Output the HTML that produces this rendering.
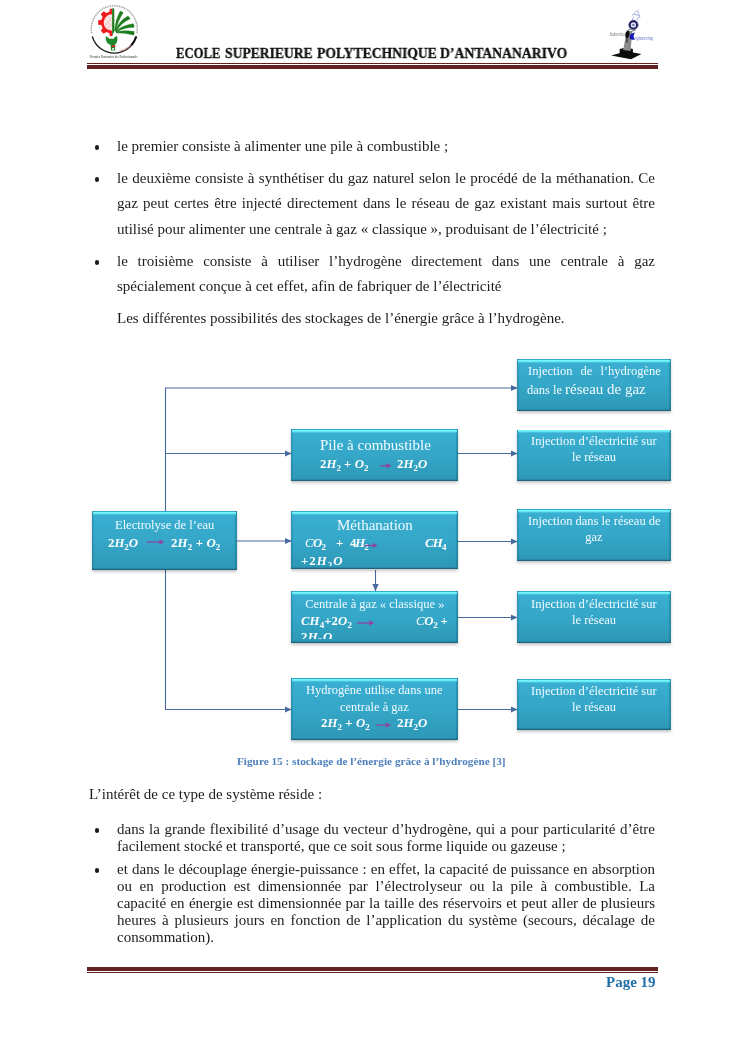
<!DOCTYPE html>
<html><head><meta charset="utf-8">
<style>
html,body{margin:0;padding:0;background:#fff;}
body{width:745px;height:1053px;position:relative;overflow:hidden;font-family:"Liberation Serif",serif;color:#1a1a1a;}
.abs{position:absolute;}
.t,.t2,.hdr,.tx,.m,.cap,.pg{will-change:transform;}
.hdr{position:absolute;font-weight:bold;font-size:14.2px;white-space:nowrap;color:#111;line-height:16px;-webkit-text-stroke:0.3px #111;}
.ln{position:absolute;left:87px;width:571px;background:#622423;}
.t{position:absolute;left:117px;width:538px;font-size:15px;line-height:25.3px;text-align:justify;color:#1c1c1c;}
.t2{position:absolute;left:117px;width:538px;font-size:15px;line-height:17.1px;text-align:justify;color:#1c1c1c;}
.nj{text-align:left;white-space:nowrap;}
.bul{position:absolute;left:94.6px;width:4.6px;height:4.6px;border-radius:50%;background:#1c1c1c;}
.box{position:absolute;background:linear-gradient(#3ab0d3 0%,#35a7c8 50%,#2d97b6 100%);box-shadow:0 1.5px 2.5px rgba(0,0,0,.22), inset 1.5px 0 1px rgba(30,110,140,.4), inset -2px 0 1px rgba(25,110,130,.45), inset 0 -1.2px 0.8px rgba(25,80,105,.75);box-sizing:border-box;}
.box::before{content:'';position:absolute;left:1px;right:1px;top:0.6px;height:3.2px;background:linear-gradient(rgba(120,255,255,.95) 0%,rgba(115,250,255,.85) 45%,rgba(100,235,250,0) 100%);}
.tx{position:absolute;color:#f1fbff;white-space:nowrap;text-align:center;}
.m{position:absolute;color:#fff;white-space:nowrap;font-weight:bold;font-size:12.8px;line-height:16px;}
.m i{font-style:italic;}
.m sub{font-size:9px;vertical-align:-2.8px;line-height:0;}
.clip{position:absolute;overflow:hidden;}
</style></head><body>

<!-- logos -->
<svg class="abs" style="left:0;top:0" width="745" height="75" viewBox="0 0 745 75">
<defs>
<clipPath id="lh"><rect x="90" y="0" width="22.3" height="60"/></clipPath>
<filter id="bl" x="-10%" y="-10%" width="120%" height="120%"><feGaussianBlur stdDeviation="0.45"/></filter>
<filter id="bl2" x="-10%" y="-10%" width="120%" height="120%"><feGaussianBlur stdDeviation="0.6"/></filter>
</defs>
<g filter="url(#bl)">
<path d="M91.6,33 A23,23.5 0 1 1 137,33" fill="none" stroke="#8f8f8f" stroke-width="1.5" stroke-dasharray="1.1 0.7" opacity="0.85"/>
<path d="M92.3,36.5 A23,23.5 0 0 0 136.3,36.5" fill="none" stroke="#1a1a1a" stroke-width="1.3"/>
<path d="M131,45.5 A23,23.5 0 0 0 136.3,36.5" fill="none" stroke="#111" stroke-width="2"/>
<path d="M120.5,51 A23,23.5 0 0 0 131.5,44.5" fill="none" stroke="#c77" stroke-width="1.3" stroke-dasharray="1 .6"/>
<g clip-path="url(#lh)"><path d="M125.8,20.3 L125.8,24.7 L122.7,25.1 L121.4,28.2 L123.3,30.7 L120.2,33.8 L117.7,31.9 L114.6,33.2 L114.2,36.3 L109.8,36.3 L109.4,33.2 L106.3,31.9 L103.8,33.8 L100.7,30.7 L102.6,28.2 L101.3,25.1 L98.2,24.7 L98.2,20.3 L101.3,19.9 L102.6,16.8 L100.7,14.3 L103.8,11.2 L106.3,13.1 L109.4,11.8 L109.8,8.7 L114.2,8.7 L114.6,11.8 L117.7,13.1 L120.2,11.2 L123.3,14.3 L121.4,16.8 L122.7,19.9Z" fill="#ee1c1c"/><circle cx="112" cy="22.5" r="8.3" fill="#fbeaea"/><path d="M105,18 L112,27 M107,15.5 L112,22 M104.5,22 L111,30 M112,17 L105.5,26 M112,23 L107.5,29.5" stroke="#e9a9a9" stroke-width="0.5" fill="none"/></g>
<path d="M112.2,8.6 L114.2,8.2 L114.4,31 L112.2,36 Z" fill="#1c7a1c"/>
<g fill="#1e7d1e" stroke="#1e7d1e" stroke-width="0.5" stroke-linejoin="round">
<path d="M114.6,30.5 Q115.8,19 120.2,11.2 L123.2,12.6 Q118,20 115.6,30.8 Z"/>
<path d="M115.2,30.8 Q119.5,20.5 128,16 L130.2,18.8 Q121.5,22.5 116,31.4 Z"/>
<path d="M115.8,31.2 Q123,25 133.4,23.8 L134.2,27.2 Q124,27.2 116.3,32 Z"/>
<path d="M116.2,31.8 Q125,30 134.2,31.6 L133.8,35 Q125,32.8 116.4,32.8 Z"/>
</g>
<path d="M105.8,36 Q105,43 110.5,45 L111,50.5 L115.2,50.5 L114.8,45 Q118.5,42.5 117,35.8 L114.5,37.5 L108,37.8 Z" fill="#1d8a2a"/>
<rect x="109" y="36.5" width="5" height="2.2" fill="#fff"/>
<path d="M110.8,47 L113.5,44.6 L116,47 Z" fill="#d22"/>
<rect x="112.3" y="48" width="1.6" height="2" fill="#fff"/>
</g>
<text x="89.8" y="57.6" font-family="Liberation Serif" font-size="3.6" font-weight="bold" fill="#666" textLength="47.5" lengthAdjust="spacingAndGlyphs" filter="url(#bl)">Premier Partenaire des Professionnels</text>

<g filter="url(#bl2)">
<path d="M611.3,55.5 L626.3,51.2 L641.4,54 L631,59.3 Z" fill="#0a0a0a"/>
<path d="M619.7,49 Q626,46.8 632.9,49 L632.9,54 L619.7,54 Z" fill="#111"/>
<path d="M623.2,50 L626.8,30.5 L632.2,31.5 L630.6,51 Z" fill="#8a8a8a"/>
<path d="M625.5,42 L627,35 L629,35.5 L627.6,43 Z" fill="#555"/>
<path d="M627.6,30.6 Q623.6,34.5 626.2,38.6 Q630.6,36.5 629.2,31 Z" fill="#0a0a0a"/>
<path d="M635,32.6 Q628.6,33.6 629.8,38.4 Q631.6,40.4 635,39.4 Q632.2,37 635,32.6 Z" fill="#1418b8"/>
<circle cx="633.4" cy="24.9" r="3.6" fill="#e8e8f4" stroke="#1a1f5e" stroke-width="1.9"/>
<circle cx="633.4" cy="24.9" r="4.6" fill="none" stroke="#1a1f5e" stroke-width="1" stroke-dasharray="1 .8"/>
<circle cx="633.4" cy="24.9" r="1.2" fill="#6a6fb0"/>
<path d="M631.5,16 L637.6,10.3 L640,18 M633.5,14.2 L639.3,15.5 M632,20.5 L633.5,16.5 M637,21 L638.5,17" fill="none" stroke="#8a8fd8" stroke-width="0.7"/>
<path d="M628,30 L632,29 M636,30 L631,31.5" stroke="#777" stroke-width="1"/>
</g>
<text x="609.6" y="35.6" font-family="Liberation Serif" font-style="italic" font-size="5.2" fill="#777" textLength="16" lengthAdjust="spacingAndGlyphs" filter="url(#bl)">Industrial</text>
<text x="634.5" y="39.5" font-family="Liberation Serif" font-style="italic" font-size="5.4" fill="#6a70d0" textLength="18.5" lengthAdjust="spacingAndGlyphs" filter="url(#bl)">ngineering</text>
</svg>

<!-- header -->
<div class="hdr" style="left:176.3px;top:44.5px;transform:scaleX(0.8918);transform-origin:0 0;">ECOLE</div>
<div class="hdr" style="left:224.8px;top:44.5px;transform:scaleX(0.9582);transform-origin:0 0;">SUPERIEURE</div>
<div class="hdr" style="left:316.6px;top:44.5px;transform:scaleX(0.9605);transform-origin:0 0;">POLYTECHNIQUE</div>
<div class="hdr" style="left:440.3px;top:44.5px;transform:scaleX(0.9656);transform-origin:0 0;">D’ANTANANARIVO</div>
<div class="ln" style="top:63px;height:1px;"></div>
<div class="ln" style="top:65px;height:3.5px;"></div>

<!-- text -->
<div class="bul" style="top:145.1px;"></div>
<div class="t nj" style="top:134px;">le premier consiste à alimenter une pile à combustible ;</div>
<div class="bul" style="top:177px;"></div>
<div class="t" style="top:166px;">le deuxième consiste à synthétiser du gaz naturel selon le procédé de la méthanation. Ce gaz peut certes être injecté directement dans le réseau de gaz existant mais surtout être utilisé pour alimenter une centrale à gaz « classique », produisant de l’électricité ;</div>
<div class="bul" style="top:260px;"></div>
<div class="t" style="top:249px;">le troisième consiste à utiliser l’hydrogène directement dans une centrale à gaz spécialement conçue à cet effet, afin de fabriquer de l’électricité</div>
<div class="t nj" style="top:306px;">Les différentes possibilités des stockages de l’énergie grâce à l’hydrogène.</div>

<!-- diagram lines -->
<svg class="abs" style="left:0;top:0" width="745" height="1053" viewBox="0 0 745 1053">
<defs><marker id="ah" markerWidth="8" markerHeight="8" refX="7" refY="4" orient="auto" markerUnits="userSpaceOnUse"><path d="M0,0.8 L7,4 L0,7.2 Z" fill="#466a9f"/></marker></defs>
<g stroke="#466a9f" stroke-width="1.1" fill="none">
<path d="M165.5,512 V388 H517.5" marker-end="url(#ah)"/>
<path d="M165.5,453.5 H291.5" marker-end="url(#ah)"/>
<path d="M236,541 H291.5" marker-end="url(#ah)"/>
<path d="M165.5,570 V709.5 H291.5" marker-end="url(#ah)"/>
<path d="M458,453.5 H517.5" marker-end="url(#ah)"/>
<path d="M458,541.5 H517.5" marker-end="url(#ah)"/>
<path d="M458,617.5 H517.5" marker-end="url(#ah)"/>
<path d="M458,709.5 H517.5" marker-end="url(#ah)"/>
<path d="M375.5,570 V591" marker-end="url(#ah)"/>
</g>
</svg>

<!-- boxes -->
<div class="box" style="left:92.2px;top:511.3px;width:144.7px;height:58.7px;"></div>
<div class="box" style="left:291.3px;top:429.3px;width:166.6px;height:52px;"></div>
<div class="box" style="left:291.3px;top:511.3px;width:166.6px;height:58.2px;"></div>
<div class="box" style="left:291.3px;top:591.3px;width:166.6px;height:51.5px;"></div>
<div class="box" style="left:291.3px;top:678.1px;width:166.6px;height:62px;"></div>
<div class="box" style="left:517.4px;top:359.4px;width:153.5px;height:51.6px;"></div>
<div class="box" style="left:517.4px;top:429.5px;width:153.5px;height:51.6px;"></div>
<div class="box" style="left:517.4px;top:509.3px;width:153.5px;height:51.4px;"></div>
<div class="box" style="left:517.4px;top:591.2px;width:153.5px;height:51.4px;"></div>
<div class="box" style="left:517.4px;top:679.2px;width:153.5px;height:51.1px;"></div>

<!-- box text -->
<div class="tx" style="left:114.8px;top:518.18px;width:99.2px;font-size:12.5px;line-height:15px;">Electrolyse de l’eau</div>
<div class="m" style="left:107.6px;top:534.55px;letter-spacing:-0.01px;">2<i>H</i><sub>2</sub><i>O</i></div>
<div class="m" style="left:170.7px;top:534.55px;letter-spacing:0.14px;">2<i>H</i><sub>2</sub>&nbsp;+&nbsp;<i>O</i><sub>2</sub></div>

<div class="tx" style="left:319.6px;top:435.54px;width:109.6px;font-size:15px;line-height:18px;">Pile à combustible</div>
<div class="m" style="left:319.6px;top:456.45px;letter-spacing:0.01px;">2<i>H</i><sub>2</sub>&nbsp;+&nbsp;<i>O</i><sub>2</sub></div>
<div class="m" style="left:397.4px;top:456.45px;letter-spacing:0.03px;">2<i>H</i><sub>2</sub><i>O</i></div>

<div class="tx" style="left:337.0px;top:515.94px;width:74.5px;font-size:15px;line-height:18px;">Méthanation</div>
<div class="clip" style="left:292px;top:512px;width:166px;height:53.9px;"><div style="position:absolute;left:-292px;top:-512px;">
<div class="m" style="left:304.6px;top:535.35px;letter-spacing:-0.65px;"><i style="font-weight:normal">C</i><i>O</i><sub>2</sub></div>
<div class="m" style="left:335.7px;top:535.35px;letter-spacing:0.00px;">+</div>
<div class="m" style="left:349.8px;top:535.35px;letter-spacing:-1.04px;">4<i>H</i><sub>2</sub></div>
<div class="m" style="left:424.9px;top:535.35px;letter-spacing:-0.81px;"><i>C</i><i>H</i><sub>4</sub></div>
<div class="m" style="left:300.7px;top:552.55px;letter-spacing:1.02px;">+2<i>H</i><sub>2</sub><i>O</i></div>
</div></div>

<div class="tx" style="left:304.6px;top:596.68px;width:139.6px;font-size:12.5px;line-height:15px;">Centrale à gaz « classique »</div>
<div class="clip" style="left:292px;top:592px;width:166px;height:46.8px;"><div style="position:absolute;left:-292px;top:-592px;">
<div class="m" style="left:301.4px;top:612.55px;letter-spacing:0.07px;"><i>C</i><i>H</i><sub>4</sub>+2<i>O</i><sub>2</sub></div>
<div class="m" style="left:416.3px;top:612.55px;letter-spacing:-0.27px;"><i style="font-weight:normal">C</i><i>O</i><sub>2</sub>&nbsp;+</div>
<div class="m" style="left:301.4px;top:629.35px;letter-spacing:0.33px;">2<i>H</i><sub>2</sub><i>O</i></div>
</div></div>

<div class="tx" style="left:306.3px;top:682.68px;width:136.2px;font-size:12.5px;line-height:15px;">Hydrogène utilise dans une</div>
<div class="tx" style="left:340.0px;top:699.88px;width:68.1px;font-size:12.5px;line-height:15px;">centrale à gaz</div>
<div class="m" style="left:321.3px;top:715.05px;letter-spacing:0.07px;">2<i>H</i><sub>2</sub>&nbsp;+&nbsp;<i>O</i><sub>2</sub></div>
<div class="m" style="left:397.0px;top:715.05px;letter-spacing:0.06px;">2<i>H</i><sub>2</sub><i>O</i></div>

<div class="tx" style="left:527.7px;top:363.88px;width:132.8px;font-size:12.5px;line-height:15px;text-align:justify;text-align-last:justify;">Injection de l’hydrogène</div>
<div class="tx" style="left:527.2px;top:382.68px;width:35.3px;font-size:12.5px;line-height:15px;text-align:left;">dans le </div>
<div class="tx" style="left:565.2px;top:380.34px;width:80.6px;font-size:15px;line-height:18px;">réseau de gaz</div>
<div class="tx" style="left:531.4px;top:433.98px;width:124.3px;font-size:12.5px;line-height:15px;">Injection d’électricité sur</div>
<div class="tx" style="left:572.0px;top:450.38px;width:43.4px;font-size:12.5px;line-height:15px;">le réseau</div>
<div class="tx" style="left:528.2px;top:514.18px;width:132.1px;font-size:12.5px;line-height:15px;">Injection dans le réseau de</div>
<div class="tx" style="left:585.0px;top:529.78px;width:18.0px;font-size:12.5px;line-height:15px;">gaz</div>
<div class="tx" style="left:531.4px;top:596.58px;width:124.3px;font-size:12.5px;line-height:15px;">Injection d’électricité sur</div>
<div class="tx" style="left:572.0px;top:612.68px;width:43.4px;font-size:12.5px;line-height:15px;">le réseau</div>
<div class="tx" style="left:531.4px;top:683.78px;width:124.3px;font-size:12.5px;line-height:15px;">Injection d’électricité sur</div>
<div class="tx" style="left:572.0px;top:699.88px;width:43.4px;font-size:12.5px;line-height:15px;">le réseau</div>

<!-- purple arrows -->
<svg class="abs" style="left:0;top:0" width="745" height="1053" viewBox="0 0 745 1053">
<defs><linearGradient id="pg" x1="0" x2="1" y1="0" y2="0" gradientUnits="objectBoundingBox"><stop offset="0" stop-color="#8c489f" stop-opacity="0"/><stop offset="1" stop-color="#8c489f"/></linearGradient></defs>
<path d="M146.6,542 H160.6" stroke="#8c489f" stroke-width="1.3" fill="none"/><path d="M159.4,539.3 L164.6,542 L159.4,544.7 Z" fill="#8c489f"/>
<path d="M380.5,465.7 H387.6" stroke="#8c489f" stroke-width="1.3" fill="none"/><path d="M386.40000000000003,463.0 L391.6,465.7 L386.40000000000003,468.4 Z" fill="#8c489f"/>
<path d="M364.7,545.5 H373.8" stroke="#8c489f" stroke-width="1.3" fill="none"/><path d="M372.6,542.8 L377.8,545.5 L372.6,548.2 Z" fill="#8c489f"/>
<path d="M357.2,623 H370.4" stroke="#8c489f" stroke-width="1.3" fill="none"/><path d="M369.2,620.3 L374.4,623 L369.2,625.7 Z" fill="#8c489f"/>
<path d="M375.9,725.1 H387.2" stroke="#8c489f" stroke-width="1.3" fill="none"/><path d="M386.0,722.4 L391.2,725.1 L386.0,727.8000000000001 Z" fill="#8c489f"/>
</svg>

<div class="abs cap" style="left:236.9px;top:754.8px;white-space:nowrap;font-size:11.25px;font-weight:bold;color:#4f81bd;">Figure 15 : stockage de l’énergie grâce à l’hydrogène [3]</div>

<div class="t nj" style="left:88.6px;top:782.2px;">L’intérêt de ce type de système réside :</div>
<div class="bul" style="top:828.3px;"></div>
<div class="t2" style="top:820.8px;">dans la grande flexibilité d’usage du vecteur d’hydrogène, qui a pour particularité d’être facilement stocké et transporté, que ce soit sous forme liquide ou gazeuse ;</div>
<div class="bul" style="top:868.2px;"></div>
<div class="t2" style="top:860.8px;">et dans le découplage énergie-puissance : en effet, la capacité de puissance en absorption ou en production est dimensionnée par l’électrolyseur ou la pile à combustible. La capacité en énergie est dimensionnée par la taille des réservoirs et peut aller de plusieurs heures à plusieurs jours en fonction de l’application du système (secours, décalage de consommation).</div>

<div class="ln" style="top:967px;height:3.8px;"></div>
<div class="ln" style="top:971.8px;height:1px;"></div>
<div class="abs pg" style="right:89.6px;top:973.6px;font-size:15px;font-weight:bold;color:#1f6fa5;white-space:nowrap;">Page 19</div>

</body></html>
